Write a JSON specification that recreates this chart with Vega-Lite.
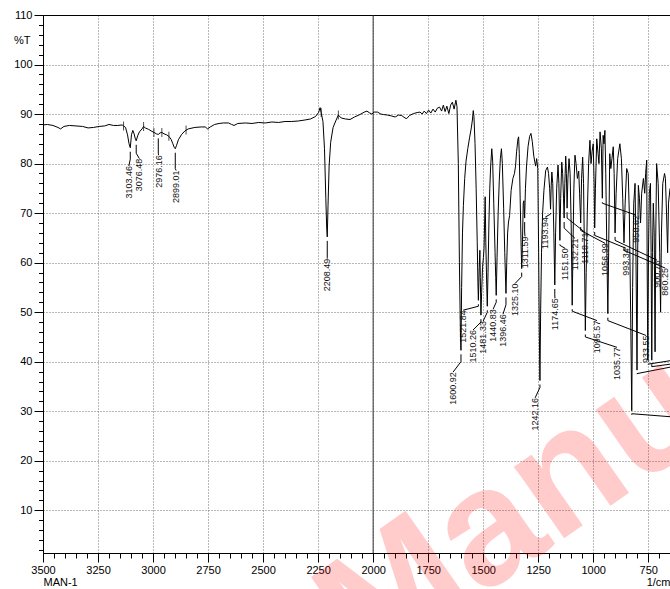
{
  "$schema": "https://vega.github.io/schema/vega-lite/v6.json",
  "width": 627,
  "height": 538,
  "autosize": {"type": "none"},
  "padding": {"left": 43, "top": 15, "right": 0, "bottom": 36},
  "background": "white",
  "config": {
    "view": {"stroke": null},
    "axis": {"labelFont": "Liberation Sans", "titleFont": "Liberation Sans", "labelColor": "black", "titleColor": "black", "tickColor": "black", "domainColor": "black"}
  },
  "resolve": {"axis": {"x": "independent", "y": "independent"}},
  "datasets": {
    "spectrum": [
      {"wn": 3500, "t": 87.8}, {"wn": 3480, "t": 87.9}, {"wn": 3455, "t": 87.7}, {"wn": 3432, "t": 87.3}, {"wn": 3420, "t": 87.0},
      {"wn": 3405, "t": 87.5}, {"wn": 3380, "t": 87.7}, {"wn": 3350, "t": 87.6}, {"wn": 3320, "t": 87.5}, {"wn": 3295, "t": 87.2},
      {"wn": 3270, "t": 87.3}, {"wn": 3245, "t": 87.5}, {"wn": 3220, "t": 87.6}, {"wn": 3200, "t": 87.9}, {"wn": 3180, "t": 87.7},
      {"wn": 3160, "t": 87.7}, {"wn": 3140, "t": 87.8}, {"wn": 3125, "t": 87.3}, {"wn": 3116, "t": 85.8}, {"wn": 3109, "t": 84.0},
      {"wn": 3103.46, "t": 83.2}, {"wn": 3098, "t": 85.8}, {"wn": 3092, "t": 86.7}, {"wn": 3086, "t": 86.0}, {"wn": 3080, "t": 84.9},
      {"wn": 3076.48, "t": 84.6}, {"wn": 3070, "t": 85.6}, {"wn": 3062, "t": 86.4}, {"wn": 3050, "t": 87.0}, {"wn": 3043, "t": 87.5},
      {"wn": 3035, "t": 87.2}, {"wn": 3020, "t": 86.9}, {"wn": 3005, "t": 86.5}, {"wn": 2995, "t": 86.3}, {"wn": 2985, "t": 86.0},
      {"wn": 2976.16, "t": 85.9}, {"wn": 2968, "t": 86.2}, {"wn": 2960, "t": 86.3}, {"wn": 2950, "t": 86.0}, {"wn": 2938, "t": 85.8},
      {"wn": 2928, "t": 85.5}, {"wn": 2918, "t": 84.9}, {"wn": 2910, "t": 84.0}, {"wn": 2904, "t": 83.3}, {"wn": 2899.01, "t": 83.0},
      {"wn": 2893, "t": 83.7}, {"wn": 2885, "t": 84.8}, {"wn": 2870, "t": 85.9}, {"wn": 2855, "t": 86.6}, {"wn": 2840, "t": 87.0},
      {"wn": 2810, "t": 87.3}, {"wn": 2780, "t": 87.4}, {"wn": 2763, "t": 87.4}, {"wn": 2752, "t": 87.0}, {"wn": 2740, "t": 87.4},
      {"wn": 2720, "t": 87.9}, {"wn": 2700, "t": 88.1}, {"wn": 2680, "t": 88.2}, {"wn": 2657, "t": 88.2}, {"wn": 2643, "t": 87.9},
      {"wn": 2632, "t": 87.7}, {"wn": 2615, "t": 88.1}, {"wn": 2580, "t": 88.2}, {"wn": 2550, "t": 88.1}, {"wn": 2520, "t": 88.3},
      {"wn": 2490, "t": 88.2}, {"wn": 2460, "t": 88.4}, {"wn": 2430, "t": 88.3}, {"wn": 2400, "t": 88.5}, {"wn": 2370, "t": 88.5},
      {"wn": 2340, "t": 88.6}, {"wn": 2310, "t": 88.8}, {"wn": 2285, "t": 89.0}, {"wn": 2262, "t": 89.5}, {"wn": 2248, "t": 90.3},
      {"wn": 2241, "t": 91.3}, {"wn": 2236, "t": 90.3}, {"wn": 2228, "t": 88.5}, {"wn": 2221, "t": 83.0}, {"wn": 2215, "t": 73.0},
      {"wn": 2211, "t": 67.0}, {"wn": 2208.49, "t": 65.2}, {"wn": 2205, "t": 71.5}, {"wn": 2200, "t": 79.5}, {"wn": 2193, "t": 84.3},
      {"wn": 2182, "t": 87.3}, {"wn": 2170, "t": 88.6}, {"wn": 2158, "t": 89.8}, {"wn": 2145, "t": 89.2}, {"wn": 2125, "t": 89.0},
      {"wn": 2105, "t": 88.9}, {"wn": 2085, "t": 89.4}, {"wn": 2060, "t": 89.9}, {"wn": 2040, "t": 90.4}, {"wn": 2028, "t": 90.6},
      {"wn": 2015, "t": 90.2}, {"wn": 2006, "t": 90.0}, {"wn": 1995, "t": 90.4}, {"wn": 1980, "t": 90.4}, {"wn": 1965, "t": 90.0},
      {"wn": 1953, "t": 89.9}, {"wn": 1935, "t": 89.8}, {"wn": 1915, "t": 89.6}, {"wn": 1900, "t": 89.4}, {"wn": 1885, "t": 89.8},
      {"wn": 1870, "t": 89.7}, {"wn": 1855, "t": 89.2}, {"wn": 1847, "t": 89.1}, {"wn": 1835, "t": 89.7}, {"wn": 1817, "t": 90.1},
      {"wn": 1800, "t": 90.3}, {"wn": 1787, "t": 90.4}, {"wn": 1777, "t": 90.0}, {"wn": 1768, "t": 90.6}, {"wn": 1758, "t": 90.1},
      {"wn": 1748, "t": 90.8}, {"wn": 1738, "t": 90.2}, {"wn": 1728, "t": 91.0}, {"wn": 1718, "t": 90.4}, {"wn": 1708, "t": 91.2},
      {"wn": 1698, "t": 91.4}, {"wn": 1689, "t": 90.6}, {"wn": 1681, "t": 91.8}, {"wn": 1673, "t": 90.5}, {"wn": 1665, "t": 91.6},
      {"wn": 1656, "t": 90.1}, {"wn": 1648, "t": 91.8}, {"wn": 1640, "t": 92.4}, {"wn": 1632, "t": 91.0}, {"wn": 1624, "t": 92.8},
      {"wn": 1619, "t": 91.5}, {"wn": 1613, "t": 80.0}, {"wn": 1608, "t": 60.0}, {"wn": 1603.5, "t": 46.0}, {"wn": 1600.92, "t": 42.3},
      {"wn": 1598, "t": 55.0}, {"wn": 1594, "t": 66.0}, {"wn": 1590, "t": 71.5}, {"wn": 1584, "t": 77.0}, {"wn": 1578, "t": 80.5},
      {"wn": 1570, "t": 83.0}, {"wn": 1562, "t": 85.2}, {"wn": 1554, "t": 87.2}, {"wn": 1549, "t": 88.8}, {"wn": 1545, "t": 90.7},
      {"wn": 1542, "t": 89.5}, {"wn": 1537, "t": 84.0}, {"wn": 1532, "t": 75.0}, {"wn": 1527, "t": 64.0}, {"wn": 1524, "t": 56.0},
      {"wn": 1521.84, "t": 52.4}, {"wn": 1518, "t": 59.0}, {"wn": 1515, "t": 62.5}, {"wn": 1513, "t": 57.0}, {"wn": 1510.26, "t": 49.4},
      {"wn": 1507, "t": 54.0}, {"wn": 1503, "t": 59.0}, {"wn": 1499, "t": 61.0}, {"wn": 1496, "t": 63.0}, {"wn": 1493, "t": 69.0},
      {"wn": 1491, "t": 73.3}, {"wn": 1488, "t": 64.0}, {"wn": 1484, "t": 55.5}, {"wn": 1481.33, "t": 51.2}, {"wn": 1478, "t": 58.0},
      {"wn": 1474, "t": 68.0}, {"wn": 1470, "t": 75.0}, {"wn": 1466, "t": 79.5}, {"wn": 1461, "t": 83.0}, {"wn": 1457, "t": 80.5},
      {"wn": 1452, "t": 72.0}, {"wn": 1446, "t": 62.0}, {"wn": 1443, "t": 57.0}, {"wn": 1440.83, "t": 53.4}, {"wn": 1437, "t": 61.0},
      {"wn": 1432, "t": 70.0}, {"wn": 1427, "t": 76.5}, {"wn": 1422, "t": 81.0}, {"wn": 1417, "t": 83.0}, {"wn": 1413, "t": 80.0},
      {"wn": 1407, "t": 71.0}, {"wn": 1402, "t": 62.0}, {"wn": 1399, "t": 57.5}, {"wn": 1396.46, "t": 53.8}, {"wn": 1393, "t": 60.0},
      {"wn": 1389, "t": 66.0}, {"wn": 1385, "t": 68.2}, {"wn": 1380, "t": 69.5}, {"wn": 1373, "t": 74.6}, {"wn": 1365, "t": 77.0},
      {"wn": 1358, "t": 78.0}, {"wn": 1353, "t": 79.5}, {"wn": 1348, "t": 82.5}, {"wn": 1342, "t": 85.0}, {"wn": 1339, "t": 85.4},
      {"wn": 1336, "t": 82.0}, {"wn": 1332, "t": 73.0}, {"wn": 1328, "t": 64.0}, {"wn": 1325.1, "t": 58.8}, {"wn": 1322, "t": 63.0},
      {"wn": 1318, "t": 72.0}, {"wn": 1315, "t": 72.5}, {"wn": 1311.59, "t": 69.0}, {"wn": 1308, "t": 75.0}, {"wn": 1303, "t": 79.5},
      {"wn": 1296, "t": 83.5}, {"wn": 1289, "t": 85.5}, {"wn": 1283, "t": 86.1}, {"wn": 1277, "t": 84.5}, {"wn": 1270, "t": 81.5},
      {"wn": 1262, "t": 79.5}, {"wn": 1257, "t": 81.0}, {"wn": 1252, "t": 79.0}, {"wn": 1248, "t": 62.0}, {"wn": 1245, "t": 46.0},
      {"wn": 1242.16, "t": 36.2}, {"wn": 1239, "t": 50.0}, {"wn": 1235, "t": 62.0}, {"wn": 1230, "t": 70.0}, {"wn": 1224, "t": 74.6},
      {"wn": 1216, "t": 78.6}, {"wn": 1208, "t": 79.3}, {"wn": 1203, "t": 78.0}, {"wn": 1198, "t": 75.0}, {"wn": 1193.94, "t": 70.8},
      {"wn": 1191, "t": 75.5}, {"wn": 1188, "t": 78.3}, {"wn": 1184, "t": 76.0}, {"wn": 1179, "t": 66.0}, {"wn": 1174.65, "t": 55.5},
      {"wn": 1171, "t": 66.0}, {"wn": 1166, "t": 75.0}, {"wn": 1160, "t": 79.7}, {"wn": 1156, "t": 76.0}, {"wn": 1151.5, "t": 64.5},
      {"wn": 1148, "t": 73.0}, {"wn": 1143, "t": 80.3}, {"wn": 1139, "t": 78.0}, {"wn": 1135, "t": 73.0}, {"wn": 1132.21, "t": 69.0},
      {"wn": 1129, "t": 76.0}, {"wn": 1125, "t": 81.5}, {"wn": 1122, "t": 78.0}, {"wn": 1118.71, "t": 71.0}, {"wn": 1115, "t": 77.0},
      {"wn": 1110, "t": 81.0}, {"wn": 1105, "t": 78.0}, {"wn": 1100, "t": 67.0}, {"wn": 1095.57, "t": 51.4}, {"wn": 1092, "t": 63.0},
      {"wn": 1088, "t": 75.0}, {"wn": 1083, "t": 81.7}, {"wn": 1078, "t": 80.0}, {"wn": 1072, "t": 77.0}, {"wn": 1066, "t": 78.5},
      {"wn": 1062, "t": 74.0}, {"wn": 1056.99, "t": 68.0}, {"wn": 1053, "t": 77.0}, {"wn": 1048, "t": 81.3}, {"wn": 1044, "t": 76.0},
      {"wn": 1040, "t": 62.0}, {"wn": 1035.77, "t": 46.3}, {"wn": 1032, "t": 58.0}, {"wn": 1027, "t": 70.0}, {"wn": 1021, "t": 80.0},
      {"wn": 1015, "t": 84.7}, {"wn": 1010, "t": 80.0}, {"wn": 1005, "t": 82.5}, {"wn": 1000, "t": 84.0}, {"wn": 996, "t": 76.0},
      {"wn": 993.34, "t": 67.0}, {"wn": 990, "t": 75.0}, {"wn": 984, "t": 85.0}, {"wn": 978, "t": 82.0}, {"wn": 974, "t": 80.0},
      {"wn": 969, "t": 86.4}, {"wn": 963, "t": 83.0}, {"wn": 958.62, "t": 73.0}, {"wn": 955, "t": 85.7}, {"wn": 951, "t": 84.0},
      {"wn": 947, "t": 86.7}, {"wn": 943, "t": 78.0}, {"wn": 938, "t": 62.0}, {"wn": 933.55, "t": 49.7}, {"wn": 930, "t": 62.0},
      {"wn": 925, "t": 82.0}, {"wn": 920, "t": 79.0}, {"wn": 915, "t": 81.0}, {"wn": 909, "t": 83.4}, {"wn": 905, "t": 78.0},
      {"wn": 900.76, "t": 66.0}, {"wn": 896, "t": 74.0}, {"wn": 889, "t": 81.0}, {"wn": 879, "t": 84.0}, {"wn": 872, "t": 81.0},
      {"wn": 866, "t": 73.0}, {"wn": 860.25, "t": 64.0}, {"wn": 855, "t": 72.0}, {"wn": 848, "t": 79.0}, {"wn": 841, "t": 78.0},
      {"wn": 836, "t": 70.0}, {"wn": 830, "t": 50.0}, {"wn": 825, "t": 30.1}, {"wn": 821, "t": 55.0}, {"wn": 816, "t": 72.0},
      {"wn": 810, "t": 76.0}, {"wn": 806, "t": 62.0}, {"wn": 801, "t": 38.3}, {"wn": 798, "t": 62.0}, {"wn": 795, "t": 75.6},
      {"wn": 790, "t": 73.0}, {"wn": 785, "t": 68.0}, {"wn": 780, "t": 74.0}, {"wn": 772, "t": 77.0}, {"wn": 766, "t": 74.0},
      {"wn": 762, "t": 78.0}, {"wn": 757, "t": 80.7}, {"wn": 755, "t": 60.0}, {"wn": 752, "t": 40.3}, {"wn": 749, "t": 62.0},
      {"wn": 745, "t": 74.0}, {"wn": 740, "t": 76.0}, {"wn": 737, "t": 62.0}, {"wn": 734, "t": 40.3}, {"wn": 731, "t": 62.0},
      {"wn": 727, "t": 72.0}, {"wn": 723, "t": 66.0}, {"wn": 719, "t": 42.0}, {"wn": 716, "t": 65.0}, {"wn": 712, "t": 80.0},
      {"wn": 705, "t": 76.0}, {"wn": 698, "t": 62.0}, {"wn": 694, "t": 50.0}, {"wn": 690, "t": 66.0}, {"wn": 684, "t": 76.0},
      {"wn": 676, "t": 78.0}, {"wn": 672, "t": 77.0}, {"wn": 667, "t": 70.0}, {"wn": 662, "t": 62.0}, {"wn": 658, "t": 72.0},
      {"wn": 651, "t": 75.0}
    ],
    "peaks": [
      {"label": "3103.46", "wn": 3103.46, "t": 83.2, "knee": 80.9, "lwn": 3110, "ltop": 79.5},
      {"label": "3076.48", "wn": 3076.48, "t": 84.6, "knee": 82.1, "lwn": 3062, "ltop": 81.0},
      {"label": "2976.16", "wn": 2976.16, "t": 85.9, "knee": 82.1, "lwn": 2975, "ltop": 81.7},
      {"label": "2899.01", "wn": 2899.01, "t": 83.0, "knee": 79.0, "lwn": 2895, "ltop": 78.6},
      {"label": "2208.49", "wn": 2208.49, "t": 65.2, "knee": 61.1, "lwn": 2208.49, "ltop": 60.8},
      {"label": "1600.92", "wn": 1600.92, "t": 42.3, "knee": 40.0, "lwn": 1637, "ltop": 37.9},
      {"label": "1521.84", "wn": 1521.84, "t": 52.4, "knee": 51.2, "lwn": 1591, "ltop": 50.4},
      {"label": "1510.26", "wn": 1510.26, "t": 49.4, "knee": 48.0, "lwn": 1546, "ltop": 46.4},
      {"label": "1481.33", "wn": 1481.33, "t": 51.2, "knee": 50.0, "lwn": 1500, "ltop": 48.2},
      {"label": "1440.83", "wn": 1440.83, "t": 53.4, "knee": 52.0, "lwn": 1455, "ltop": 50.6},
      {"label": "1396.46", "wn": 1396.46, "t": 53.8, "knee": 51.5, "lwn": 1410, "ltop": 49.6},
      {"label": "1325.10", "wn": 1325.1, "t": 58.8, "knee": 57.2, "lwn": 1355, "ltop": 55.8},
      {"label": "1311.59", "wn": 1311.59, "t": 69.0, "knee": 66.2, "lwn": 1310, "ltop": 65.3},
      {"label": "1242.16", "wn": 1242.16, "t": 36.2, "knee": 34.8, "lwn": 1264, "ltop": 32.7},
      {"label": "1193.94", "wn": 1193.94, "t": 70.8, "knee": 69.8, "lwn": 1218, "ltop": 69.2},
      {"label": "1174.65", "wn": 1174.65, "t": 55.5, "knee": 53.5, "lwn": 1174, "ltop": 52.8},
      {"label": "1151.50", "wn": 1151.5, "t": 64.5, "knee": 63.5, "lwn": 1128, "ltop": 62.9},
      {"label": "1132.21", "wn": 1132.21, "t": 69.0, "knee": 67.0, "lwn": 1083, "ltop": 64.9},
      {"label": "1118.71", "wn": 1118.71, "t": 71.0, "knee": 69.0, "lwn": 1037, "ltop": 66.1},
      {"label": "1095.57", "wn": 1095.57, "t": 51.4, "knee": 50.2, "lwn": 983, "ltop": 48.3},
      {"label": "1056.99", "wn": 1056.99, "t": 68.0, "knee": 66.5, "lwn": 946, "ltop": 63.9},
      {"label": "1035.77", "wn": 1035.77, "t": 46.3, "knee": 45.0, "lwn": 892, "ltop": 42.9},
      {"label": "993.34", "wn": 993.34, "t": 67.0, "knee": 65.5, "lwn": 851, "ltop": 62.9},
      {"label": "958.62", "wn": 958.62, "t": 73.0, "knee": 72.0, "lwn": 806, "ltop": 69.6},
      {"label": "933.55", "wn": 933.55, "t": 49.7, "knee": 48.3, "lwn": 760, "ltop": 45.3},
      {"label": "900.76", "wn": 900.76, "t": 66.0, "knee": 64.5, "lwn": 710, "ltop": 60.5},
      {"label": "860.25", "wn": 860.25, "t": 64.0, "knee": 62.5, "lwn": 673, "ltop": 58.9},
      {"label": "", "wn": 825, "t": 30.1, "knee": 29.5, "lwn": 651, "ltop": 28.9},
      {"label": "", "wn": 801, "t": 38.3, "knee": 37.6, "lwn": 651, "ltop": 38.9},
      {"label": "", "wn": 752, "t": 40.3, "knee": 39.5, "lwn": 651, "ltop": 40.2},
      {"label": "", "wn": 734, "t": 40.3, "knee": 39.0, "lwn": 651, "ltop": 39.5}
    ],
    "markers": [
      {"wn": 3134, "t": 87.6}, {"wn": 3043, "t": 87.5}, {"wn": 2996, "t": 86.3}, {"wn": 2960, "t": 86.3},
      {"wn": 2928, "t": 85.5}, {"wn": 2850, "t": 86.8}, {"wn": 2236, "t": 90.3}, {"wn": 2158, "t": 89.8}
    ],
    "divider": [{"wn": 2000}],
    "watermark": [{"text": "Manuscript", "wn": 2028, "t": -23.5}]
  },
  "layer": [
    {
      "data": {"name": "divider"},
      "mark": {"type": "rule", "color": "#333333", "strokeWidth": 1},
      "encoding": {
        "x": {"field": "wn", "type": "quantitative", "scale": {"domain": [3500, 651.2], "nice": false, "zero": false}, "axis": null}
      }
    },
    {
      "data": {"name": "spectrum"},
      "mark": {"type": "line", "color": "black", "strokeWidth": 1, "clip": true},
      "encoding": {
        "x": {
          "field": "wn", "type": "quantitative",
          "scale": {"domain": [3500, 651.2], "nice": false, "zero": false},
          "axis": {
            "orient": "bottom",
            "values": [3500, 3250, 3000, 2750, 2500, 2250, 2000, 1750, 1500, 1250, 1000, 750],
            "format": "d", "labelFontSize": 11, "labelPadding": 2, "labelFlush": false, "labelOverlap": false,
            "tickSize": 9, "tickWidth": 1, "domainWidth": 1,
            "grid": true, "gridColor": "#707070", "gridDash": [1, 2], "gridWidth": 1,
            "title": "MAN-1", "titleX": 0, "titleY": 29, "titleAlign": "left", "titleBaseline": "middle",
            "titleFontSize": 11, "titleFontWeight": "normal"
          }
        },
        "y": {
          "field": "t", "type": "quantitative",
          "scale": {"domain": [1.38, 110], "nice": false, "zero": false},
          "axis": {
            "orient": "left",
            "values": [10, 20, 30, 40, 50, 60, 70, 80, 90, 100, 110],
            "format": "d", "labelFontSize": 11, "labelPadding": 2, "labelFlush": false, "labelOverlap": false,
            "tickSize": 9, "tickWidth": 1, "domainWidth": 1,
            "grid": true, "gridColor": "#707070", "gridDash": [1, 2], "gridWidth": 1,
            "title": "%T", "titleAngle": 0, "titleX": -13, "titleY": 25, "titleAlign": "right", "titleBaseline": "middle",
            "titleFontSize": 11, "titleFontWeight": "normal"
          }
        }
      }
    },
    {
      "data": {"name": "markers"},
      "mark": {"type": "tick", "orient": "vertical", "color": "black", "size": 9, "thickness": 1},
      "encoding": {
        "x": {
          "field": "wn", "type": "quantitative",
          "scale": {"domain": [3500, 651.2], "nice": false, "zero": false},
          "axis": {"orient": "top", "labels": false, "ticks": false, "grid": false, "domain": true, "domainWidth": 1, "title": null}
        },
        "y": {"field": "t", "type": "quantitative", "scale": {"domain": [1.38, 110], "nice": false, "zero": false}, "axis": null}
      }
    },
    {
      "data": {"name": "peaks"},
      "mark": {"type": "rule", "color": "black", "strokeWidth": 1, "yOffset": 4},
      "encoding": {
        "x": {
          "field": "wn", "type": "quantitative",
          "scale": {"domain": [3500, 651.2], "nice": false, "zero": false},
          "axis": {
            "orient": "bottom",
            "values": [3450, 3400, 3350, 3300, 3200, 3150, 3100, 3050, 2950, 2900, 2850, 2800, 2700, 2650, 2600, 2550, 2450, 2400, 2350, 2300, 2200, 2150, 2100, 2050, 1950, 1900, 1850, 1800, 1700, 1650, 1600, 1550, 1450, 1400, 1350, 1300, 1200, 1150, 1100, 1050, 950, 900, 850, 800, 700],
            "labels": false, "tickSize": 5, "tickWidth": 1, "domain": false, "grid": false,
            "title": "1/cm", "titleX": 627, "titleY": 29, "titleAlign": "right", "titleBaseline": "middle",
            "titleFontSize": 11, "titleFontWeight": "normal"
          }
        },
        "y": {
          "field": "t", "type": "quantitative",
          "scale": {"domain": [1.38, 110], "nice": false, "zero": false},
          "axis": {
            "orient": "left",
            "values": [2, 4, 6, 8, 12, 14, 16, 18, 22, 24, 26, 28, 32, 34, 36, 38, 42, 44, 46, 48, 52, 54, 56, 58, 62, 64, 66, 68, 72, 74, 76, 78, 82, 84, 86, 88, 92, 94, 96, 98, 102, 104, 106, 108],
            "labels": false, "tickSize": 4.5, "tickWidth": 1, "domain": false, "grid": false, "title": null
          }
        },
        "y2": {"field": "knee"}
      }
    },
    {
      "data": {"name": "peaks"},
      "mark": {"type": "rule", "color": "black", "strokeWidth": 1},
      "encoding": {
        "x": {"field": "wn", "type": "quantitative", "scale": {"domain": [3500, 651.2], "nice": false, "zero": false}, "axis": null},
        "x2": {"field": "lwn"},
        "y": {"field": "knee", "type": "quantitative", "scale": {"domain": [1.38, 110], "nice": false, "zero": false}, "axis": null},
        "y2": {"field": "ltop"}
      }
    },
    {
      "data": {"name": "peaks"},
      "mark": {"type": "text", "angle": 270, "align": "right", "baseline": "middle", "font": "Liberation Sans", "fontSize": 9, "color": "#111111"},
      "encoding": {
        "x": {"field": "lwn", "type": "quantitative", "scale": {"domain": [3500, 651.2], "nice": false, "zero": false}, "axis": null},
        "y": {"field": "ltop", "type": "quantitative", "scale": {"domain": [1.38, 110], "nice": false, "zero": false}, "axis": null},
        "text": {"field": "label"}
      }
    },
    {
      "data": {"name": "watermark"},
      "mark": {"type": "text", "angle": 325, "align": "left", "baseline": "alphabetic", "font": "Liberation Sans", "fontWeight": "bold", "fontSize": 165, "color": "#ff0000", "opacity": 0.2},
      "encoding": {
        "x": {"field": "wn", "type": "quantitative", "scale": {"domain": [3500, 651.2], "nice": false, "zero": false}, "axis": null},
        "y": {"field": "t", "type": "quantitative", "scale": {"domain": [1.38, 110], "nice": false, "zero": false}, "axis": null},
        "text": {"field": "text"}
      }
    }
  ]
}
